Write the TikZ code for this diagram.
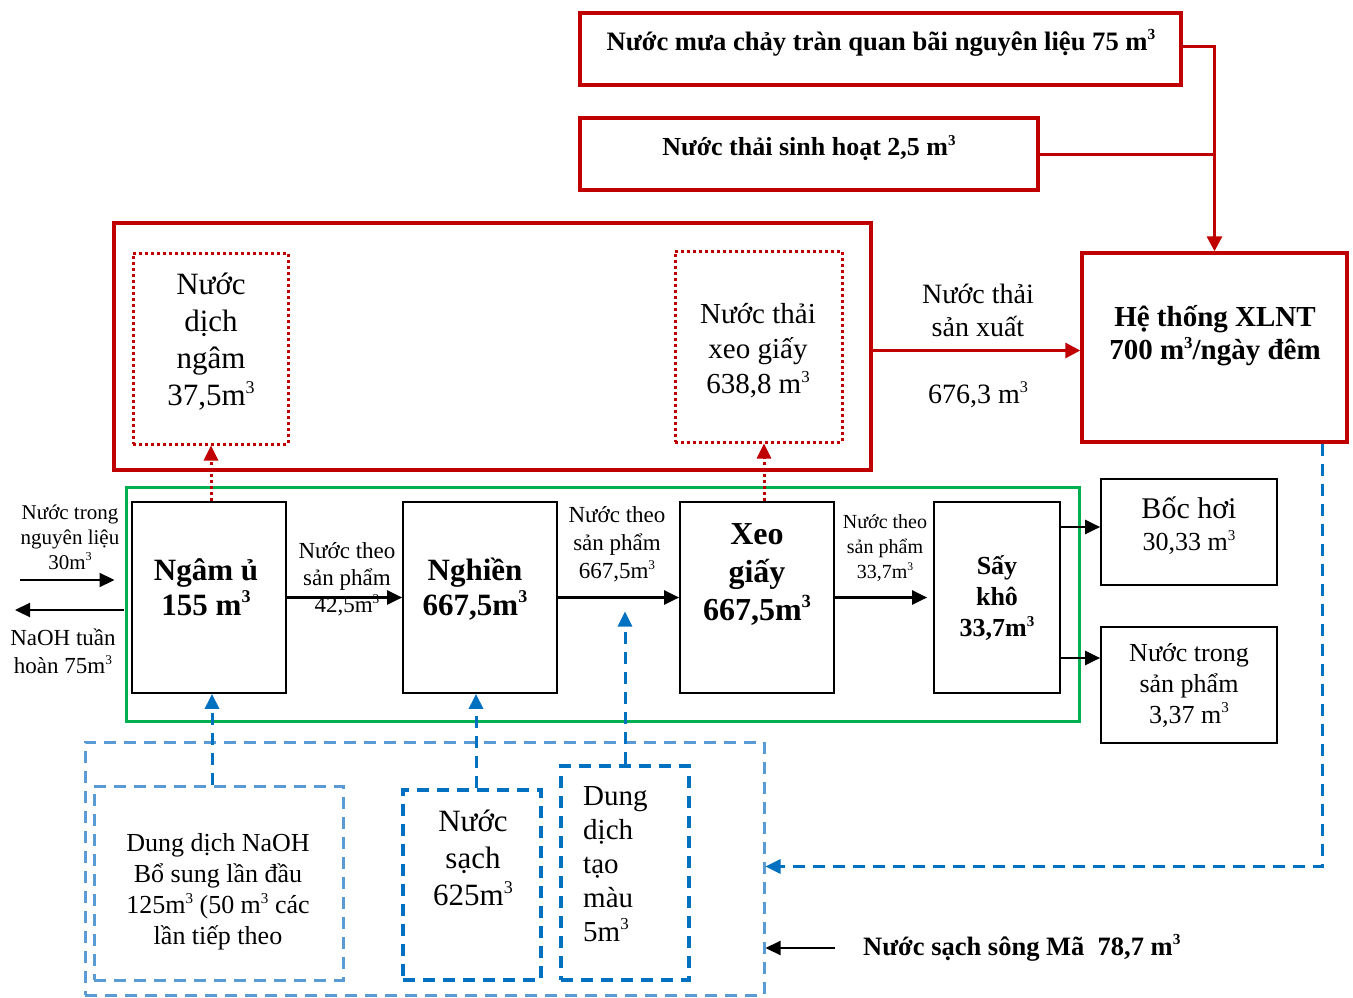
\documentclass[tikz,border=0pt]{standalone}
\usepackage{fontspec}
\setmainfont{Liberation Serif}
\usetikzlibrary{arrows.meta,fit,calc}
\definecolor{xred}{HTML}{C00000}
\definecolor{xgreen}{HTML}{00B050}
\definecolor{lblue}{HTML}{5B9BD5}
\definecolor{dblue}{HTML}{0070C0}
\newcommand\fsz[2]{\fontsize{#1}{#2}\selectfont}
\newcommand\cub{\raisebox{0.4em}{\scalebox{0.58}{3}}}
\begin{document}
\begin{tikzpicture}[x=1pt,y=-1pt,
  boxk/.style={draw=black,line width=1.7pt,inner sep=0pt},
  boxr/.style={draw=xred,line width=3.4pt,inner sep=0pt},
  boxrdot/.style={draw=xred,line width=3pt,dash pattern=on 3pt off 3pt,inner sep=0pt},
  boxg/.style={draw=xgreen,line width=3pt,inner sep=0pt},
  boxlb/.style={draw=lblue,line width=3pt,dash pattern=on 12pt off 8pt,inner sep=0pt},
  boxdb/.style={draw=dblue,line width=3.4pt,dash pattern=on 12pt off 8pt,inner sep=0pt},
  txt/.style={inner sep=0pt,align=center},
  arr/.style={draw=black,line width=2.2pt,-{Triangle[length=15pt,width=14pt]}},
  rline/.style={draw=xred,line width=3pt},
  rarr/.style={draw=xred,line width=3pt,-{Triangle[length=15pt,width=15pt]}},
  rdarr/.style={draw=xred,line width=3pt,dash pattern=on 3pt off 3pt,-{Triangle[length=15pt,width=14pt]}},
  barr/.style={draw=dblue,line width=3pt,dash pattern=on 12pt off 8pt,-{Triangle[length=15pt,width=14pt]}}]
\useasboundingbox (0,0) rectangle (1353,998);

% ---------- wastewater sources and treatment plant ----------
\node[boxr,fit={(580,13) (1181,85)}] (top1) {};
\node[txt,font=\fsz{26.6}{30}\bfseries] (top1t) at (881,43) {Nước mưa chảy tràn quan bãi nguyên liệu 75 m\cub};
\node[boxr,fit={(580,118) (1038,190)}] (top2) {};
\node[txt,font=\fsz{26}{30}\bfseries] (top2t) at (809,148) {Nước thải sinh hoạt 2,5 m\cub};
\node[boxr,fit={(1082,253) (1347,442)}] (xlnt) {};
\node[txt,font=\fsz{29}{33}\bfseries] (xlntt) at (1215,336) {Hệ thống XLNT\\700 m\cub/ngày đêm};

% ---------- production wastewater group ----------
\node[boxr,fit={(114,223) (871,470)}] (bigred) {};
\node[boxrdot,fit={(133,253) (288,444)}] (d1) {};
\node[txt,font=\fsz{31}{37}] (d1t) at (211,342) {Nước\\dịch\\ngâm\\37,5m\cub};
\node[boxrdot,fit={(675,251) (842,442)}] (d2) {};
\node[txt,font=\fsz{29}{35}] (d2t) at (758,351) {Nước thải\\xeo giấy\\638,8 m\cub};
\node[txt,font=\fsz{28}{33}] (sxt) at (978,310) {Nước thải\\sản xuất};
\node[txt,font=\fsz{28}{33}] (sxv) at (978,395) {676,3 m\cub};

% ---------- process line ----------
\node[boxg,fit={(126,487) (1079,721)}] (green) {};
\node[boxk,fit={(132,502) (286,693)}] (ngam) {};
\node[txt,font=\fsz{31}{35}\bfseries] (ngamt) at (206,587) {Ngâm ủ\\155 m\cub};
\node[boxk,fit={(403,502) (557,693)}] (nghien) {};
\node[txt,font=\fsz{31}{35}\bfseries] (nghient) at (475,589) {Nghiền\\667,5m\cub};
\node[boxk,fit={(680,502) (834,693)}] (xeo) {};
\node[txt,font=\fsz{32}{38}\bfseries] (xeot) at (757,574) {Xeo\\giấy\\667,5m\cub};
\node[boxk,fit={(934,502) (1060,693)}] (say) {};
\node[txt,font=\fsz{26}{31}\bfseries] (sayt) at (997,598) {Sấy\\khô\\33,7m\cub};

\node[txt,font=\fsz{23}{27}] (l1) at (347,579) {Nước theo\\sản phẩm\\42,5m\cub};
\node[txt,font=\fsz{23}{28}] (l2) at (617,544) {Nước theo\\sản phẩm\\667,5m\cub};
\node[txt,font=\fsz{20}{25}] (l3) at (885,548) {Nước theo\\sản phẩm\\33,7m\cub};

\node[txt,font=\fsz{21}{25}] (inl) at (70,537) {Nước trong\\nguyên liệu\\30m\cub};
\node[txt,font=\fsz{23}{28}] (outl) at (63,651) {NaOH tuần\\hoàn 75m\cub};

\node[boxk,fit={(1101,479) (1277,585)}] (bochoi) {};
\node[txt,font=\fsz{26}{32}] (bochoit) at (1189,526) {{\fsz{30}{32}Bốc hơi}\\30,33 m\cub};
\node[boxk,fit={(1101,627) (1277,743)}] (nuocsp) {};
\node[txt,font=\fsz{26}{31}] (nuocspt) at (1189,685) {Nước trong\\sản phẩm\\3,37 m\cub};

% ---------- clean water inputs ----------
\node[boxlb,fit={(85,742) (764,995)}] (outer) {};
\node[boxlb,fit={(94,786) (343,980)}] (naoh) {};
\node[txt,font=\fsz{26}{31}] (naoht) at (218,892) {Dung dịch NaOH\\Bổ sung lần đầu\\125m\cub{} (50 m\cub{} các\\lần tiếp theo};
\node[boxdb,fit={(403,790) (541,980)}] (nsach) {};
\node[txt,font=\fsz{31}{37}] (nsacht) at (473,858) {Nước\\sạch\\625m\cub};
\node[boxdb,fit={(561,766) (689,980)}] (ddtm) {};
\node[inner sep=0pt,align=left,anchor=west,font=\fsz{29}{34}] (ddtmt) at (583,864) {Dung\\dịch\\tạo\\màu\\5m\cub};
\node[inner sep=0pt,anchor=west,font=\fsz{26.5}{30}\bfseries] (river) at (863,948) {Nước sạch sông Mã~~78,7 m\cub};

% ---------- connectors ----------
\draw[rarr] ($(top1.east)+(0,-2)$) -| (xlnt.north);
\draw[rline] (top2.east) -- (top2.east -| xlnt.north);
\draw[rarr] ($(bigred.east)+(0,4)$) -- ($(bigred.east -| xlnt.west)+(0,4)$);

\draw[rdarr] ($(ngam.north)+(2,0)$) -- ($(ngam.north |- d1.south)+(2,0)$);
\draw[rdarr] ($(xeo.north)+(7,0)$) -- ($(xeo.north |- d2.south)+(7,0)$);

\draw[arr] (ngam.east) -- (nghien.west);
\draw[arr] (nghien.east) -- (xeo.west);
\draw[arr] (xeo.east) -- ($(say.west)+(-6,0)$);
\draw[arr] ($(say.east |- bochoi.west)+(0,-5)$) -- ($(bochoi.west)+(0,-5)$);
\draw[arr] ($(say.east |- nuocsp.west)+(0,-27)$) -- ($(nuocsp.west)+(0,-27)$);

\coordinate (inS) at (20,580);
\coordinate (outE) at (15,610);
\draw[arr] (inS) -- ($(inS -| green.west)+(-10,0)$);
\draw[arr] ($(outE -| green.west)+(-1,0)$) -- (outE);

\draw[barr] ($(naoh.north)+(-6.5,0)$) -- ($(naoh.north |- ngam.south)+(-6.5,0)$);
\draw[barr] ($(nsach.north)+(4,0)$) -- ($(nsach.north |- nghien.south)+(4,0)$);
\draw[barr] (ddtm.north) -- ($(ddtm.north |- nghien.east)+(0,14)$);

\draw[barr] ($(xlnt.south)+(107.5,0)$) |- ($(outer.east)+(0,-2)$);
\draw[arr] ($(river.west)+(-28,0)$) -- (river.west -| outer.east);
\end{tikzpicture}
\end{document}
